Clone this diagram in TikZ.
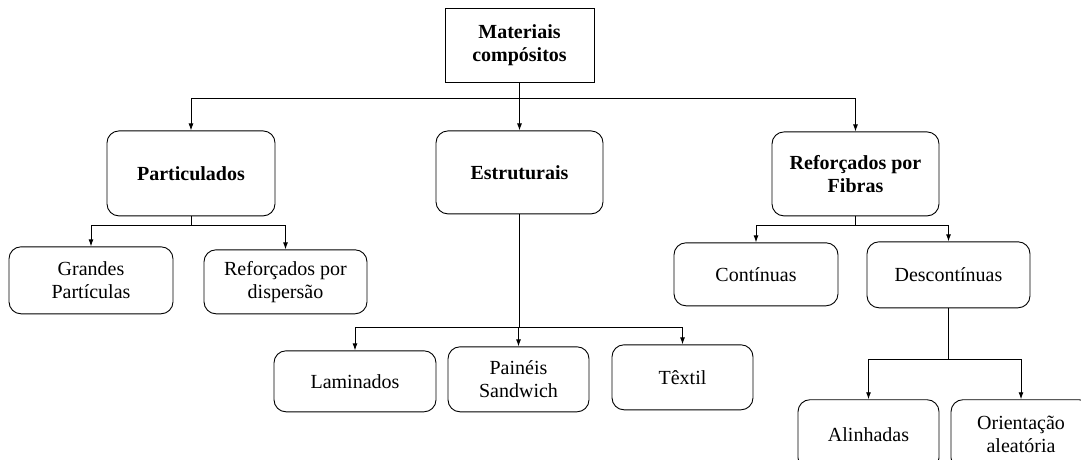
\documentclass[tikz,border=0pt]{standalone}
\usepackage{fontspec}
\setmainfont{Liberation Serif}
\usepackage{tikz}
\usetikzlibrary{positioning,arrows.meta}

\tikzset{
	box/.style={draw, line width=0.9pt, align=center, inner sep=0pt,
		font=\fontsize{20}{23}\selectfont},
	root/.style={box, minimum width=149pt, minimum height=74pt, font=\fontsize{20}{23}\selectfont\bfseries},
	cat/.style={box, rounded corners=12pt},
	arr/.style={-{Latex[length=7pt,width=5pt]}, line width=0.9pt}
}

\begin{document}
\begin{tikzpicture}[x=1pt,y=-1pt]
			\useasboundingbox (0,0) rectangle (1081,459);
			
			\node[root] (mat) at (519.5,45) {Materiais\\compósitos};
			
			\node[cat, font=\fontsize{20}{23}\selectfont\bfseries, minimum width=168pt, minimum height=85pt,
				below=48pt of mat, xshift=-328.5pt] (part) {Particulados};
			\node[cat, font=\fontsize{20}{23}\selectfont\bfseries, minimum width=167pt, minimum height=83pt,
				below=48pt of mat] (estr) {Estruturais};
			\node[cat, font=\fontsize{20}{23}\selectfont\bfseries, minimum width=167pt, minimum height=84pt,
				below=49pt of mat, xshift=336pt] (fib) {Reforçados por\\Fibras};
			
			\node[cat, minimum width=164pt, minimum height=67pt, below=30pt of part, xshift=-100pt] (grand) {Grandes\\Partículas};
			\node[cat, minimum width=163pt, minimum height=64pt, below=33pt of part, xshift=94.5pt] (disp) {Reforçados por\\dispersão};
			
			\node[cat, minimum width=162pt, minimum height=61pt, below=136pt of estr, xshift=-164.5pt] (lam) {Laminados};
			\node[cat, minimum width=141pt, minimum height=65pt, below=132pt of estr, xshift=-1pt] (pain) {Painéis\\Sandwich};
			\node[cat, minimum width=141pt, minimum height=65pt, below=130pt of estr, xshift=163pt] (tex) {Têxtil};
			
			\node[cat, minimum width=164pt, minimum height=63pt, below=26pt of fib, xshift=-99.5pt] (cont) {Contínuas};
			\node[cat, minimum width=163pt, minimum height=66pt, below=25pt of fib, xshift=93pt] (desc) {Descontínuas};
			
			\node[cat, minimum width=141pt, minimum height=70pt, below=91pt of desc, xshift=-80pt] (alin) {Alinhadas};
			\node[cat, minimum width=140pt, minimum height=70pt, below=91pt of desc, xshift=72.5pt] (ori) {Orientação\\aleatória};
			
			% level 1
			\draw[arr] (mat.south) -- ++(0,16) -| (part);
			\draw[arr] (mat.south) -- ++(0,16) -| (estr);
			\draw[arr] (mat.south) -- ++(0,16) -| (fib);
			
			% level 2
			\draw[arr] (part.south) -- ++(0,9) -| (grand);
			\draw[arr] (part.south) -- ++(0,9) -| (disp);
			\draw[arr] (estr.south) -- ++(0,113) -| (lam);
			\draw[arr] (estr.south) -- ++(0,113) -| (pain);
			\draw[arr] (estr.south) -- ++(0,113) -| (tex);
			\draw[arr] (fib.south) -- ++(0,9) -| (cont);
			\draw[arr] (fib.south) -- ++(0,9) -| (desc);
			
			% level 3
			\draw[arr] (desc.south) -- ++(0,51) -| (alin);
			\draw[arr] (desc.south) -- ++(0,51) -| (ori);
			
		\end{tikzpicture}
\end{document}
